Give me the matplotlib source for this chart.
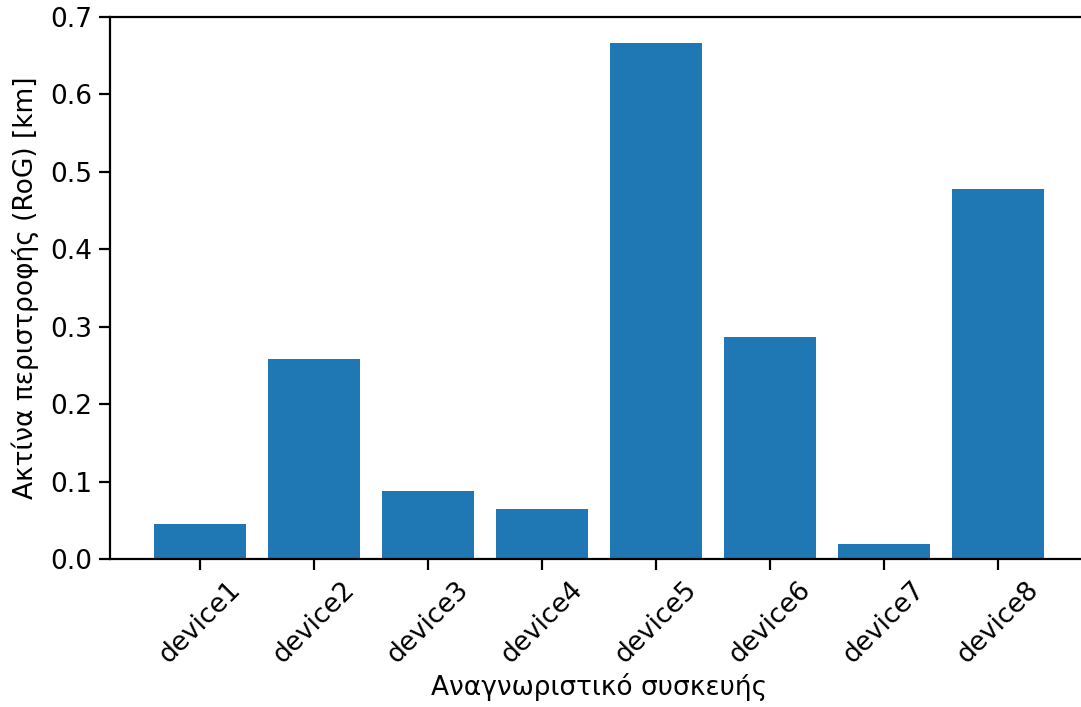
import matplotlib
matplotlib.use("Agg")
import matplotlib.pyplot as plt

devices = ["device1", "device2", "device3", "device4", "device5", "device6", "device7", "device8"]
rog_km = [0.045, 0.258, 0.088, 0.065, 0.667, 0.287, 0.019, 0.478]

fig = plt.figure(figsize=(10.81, 7.07), dpi=100)
ax = fig.add_axes([110/1081, (707-559)/707, (1088-110)/1081, (559-17)/707])
ax.bar(devices, rog_km, color="#1f77b4", width=0.8)
ax.set_ylim(0, 0.7)
ax.spines["right"].set_visible(False)
ax.tick_params(labelsize=19, length=8, width=1.6, pad=5)
for s in ax.spines.values():
    s.set_linewidth(1.6)
plt.setp(ax.get_xticklabels(), rotation=45, ha="center", rotation_mode="default")
ax.set_xlabel("Αναγνωριστικό συσκευής", fontsize=19, labelpad=3)
ax.set_ylabel("Ακτίνα περιστροφής (RoG) [km]", fontsize=19, labelpad=8)
fig.savefig("out.png", dpi=100)
